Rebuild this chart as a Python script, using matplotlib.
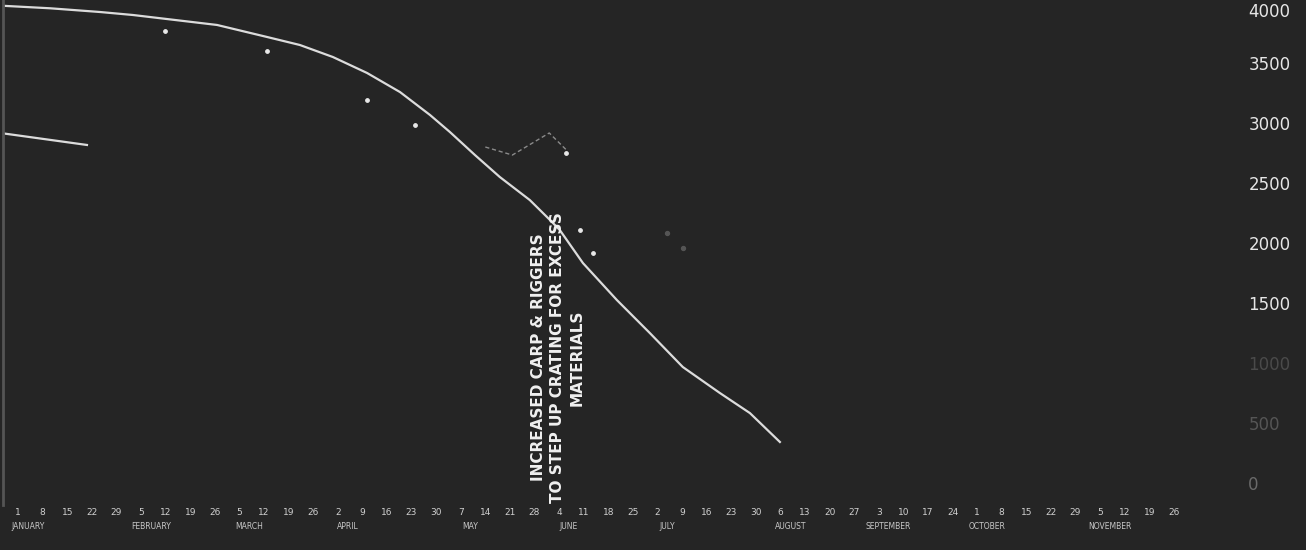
import numpy as np
import pandas as pd
import matplotlib
matplotlib.use("Agg")
import matplotlib.pyplot as plt

# main curve (x in weeks from first tick, y in units)
curve_wk = [-0.73, 1.30, 3.33, 4.67, 8.09, 10.12, 11.46, 12.80, 14.19, 15.53,
            16.75, 17.56, 18.58, 19.59, 20.81, 21.63, 22.03, 22.97, 24.35,
            25.69, 27.03, 28.54, 29.76, 30.98]
curve_val = [3978, 3956, 3925, 3900, 3817, 3717, 3650, 3550, 3417, 3258,
             3067, 2925, 2733, 2550, 2358, 2192, 2108, 1833, 1525,
             1250, 967, 750, 583, 342]

# short second line at left
prev_wk = [-0.73, 2.80]
prev_val = [2917, 2817]

# faint bump near the annotation
bump_wk = [19.0, 20.1, 21.6, 22.3]
bump_val = [2800, 2733, 2917, 2775]

# scattered plotted points
pts_wk = [5.98, 10.12, 14.19, 16.14, 22.3, 22.85, 23.37]
pts_val = [3767, 3600, 3192, 2983, 2750, 2108, 1917]
faint_wk = [26.4, 27.03]
faint_val = [2083, 1958]

y_ticks = [0, 500, 1000, 1500, 2000, 2500, 3000, 3500, 4000]
y_colors = ['#6a6a6a', '#555555', '#4a4a4a', '#e6e6e6', '#e6e6e6',
            '#e6e6e6', '#e6e6e6', '#e6e6e6', '#e6e6e6']

weeks = pd.date_range("1945-01-01", periods=48, freq="7D")
day_labels = [str(d.day) for d in weeks]

note = "INCREASED CARP & RIGGERS\nTO STEP UP CRATING FOR EXCESS\nMATERIALS"

BG = '#252525'
LINE = '#dcdcdc'

fig = plt.figure(figsize=(13.06, 5.5), dpi=100, facecolor=BG)
ax = fig.add_axes([0.002, 45 / 550, 1229 / 1306, 505 / 550])
ax.set_facecolor(BG)

ax.plot(curve_wk, curve_val, color=LINE, lw=1.6, solid_joinstyle='round')
ax.plot(prev_wk, prev_val, color=LINE, lw=1.6)
ax.plot(bump_wk, bump_val, color='#8a8a8a', lw=1, ls=(0, (3, 2)))
ax.scatter(pts_wk, pts_val, s=6, color='#e8e8e8', zorder=3)
ax.scatter(faint_wk, faint_val, s=8, color='#555555', zorder=3)

ax.text(21.95, 1045, note, rotation=90, ha='center', va='center',
        multialignment='center', fontsize=11, fontweight='bold',
        color='#f0f0f0', linespacing=1.35)

ax.set_xlim(-0.63, 49.35)
ax.set_ylim(-183, 4025)

# y axis on the right
ax.yaxis.tick_right()
ax.set_yticks(y_ticks)
ax.set_yticklabels([str(v) for v in y_ticks], fontsize=12, ha='left')
for lab, c in zip(ax.get_yticklabels(), y_colors):
    lab.set_color(c)
ax.get_yticklabels()[-1].set_va('top')
ax.tick_params(axis='y', length=0, pad=12)

# weekly day numbers and month names
ax.set_xticks(range(len(weeks)))
ax.set_xticklabels(day_labels, fontsize=6.5, color='#d0d0d0')
first_of_month = [i for i, d in enumerate(weeks) if d.day <= 7]
month_names = [weeks[i].strftime('%B').upper() for i in first_of_month]
ax.set_xticks([i + 0.4 for i in first_of_month], minor=True)
ax.set_xticklabels(month_names, minor=True, fontsize=5.5, color='#c8c8c8')
ax.tick_params(axis='x', which='major', length=0, pad=2)
ax.tick_params(axis='x', which='minor', length=0, pad=12)

for side in ['top', 'right', 'bottom']:
    ax.spines[side].set_visible(False)
ax.spines['left'].set_color('#555555')
ax.spines['left'].set_linewidth(2)

fig.savefig('out.png', dpi=100, facecolor=BG)
